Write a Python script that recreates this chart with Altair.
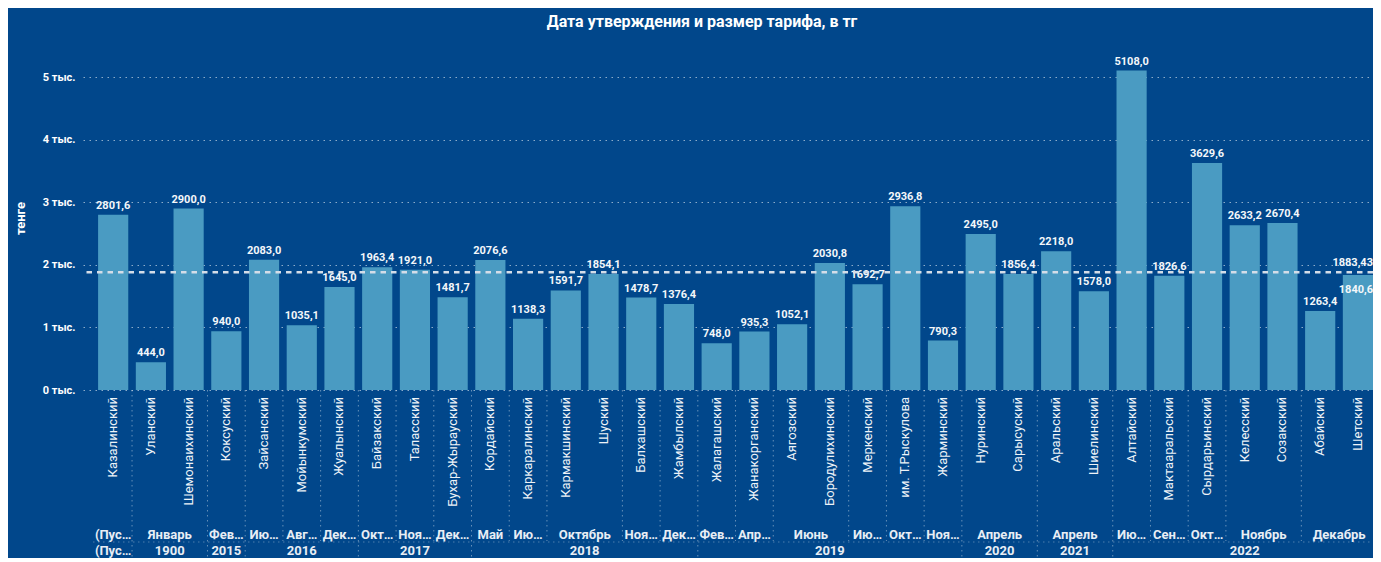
import altair as alt
import pandas as pd

# ---------------- data ----------------
districts = [
    "Казалинский", "Уланский", "Шемонаихинский", "Коксуский", "Зайсанский",
    "Мойынкумский", "Жуалынский", "Байзакский", "Таласский", "Бухар-Жырауский",
    "Кордайский", "Каркаралинский", "Кармакшинский", "Шуский", "Балхашский",
    "Жамбылский", "Жалагашский", "Жанакорганский", "Аягозский", "Бородулихинский",
    "Меркенский", "им. Т.Рыскулова", "Жарминский", "Нуринский", "Сарысуский",
    "Аральский", "Шиелинский", "Алтайский", "Мактааральский", "Сырдарьинский",
    "Келесский", "Созакский", "Абайский", "Шетский",
]
values = [
    2801.6, 444.0, 2900.0, 940.0, 2083.0,
    1035.1, 1645.0, 1963.4, 1921.0, 1481.7,
    2076.6, 1138.3, 1591.7, 1854.1, 1478.7,
    1376.4, 748.0, 935.3, 1052.1, 2030.8,
    1692.7, 2936.8, 790.3, 2495.0, 1856.4,
    2218.0, 1578.0, 5108.0, 1826.6, 3629.6,
    2633.2, 2670.4, 1263.4, 1840.6,
]
months = [
    "(Пус…", "Январь", "Январь", "Фев…", "Ию…",
    "Авг…", "Дек…", "Окт…", "Ноя…", "Дек…",
    "Май", "Ию…", "Октябрь", "Октябрь", "Ноя…",
    "Дек…", "Фев…", "Апр…", "Июнь", "Июнь",
    "Ию…", "Окт…", "Ноя…", "Апрель", "Апрель",
    "Апрель", "Апрель", "Ию…", "Сен…", "Окт…",
    "Ноябрь", "Ноябрь", "Декабрь", "Декабрь",
]
years = [
    "(Пус…", "1900", "1900", "2015", "2016",
    "2016", "2016", "2017", "2017", "2017",
    "2018", "2018", "2018", "2018", "2018",
    "2018", "2019", "2019", "2019", "2019",
    "2019", "2019", "2019", "2020", "2020",
    "2021", "2021", "2022", "2022", "2022",
    "2022", "2022", "2022", "2022",
]
avg_value = 1883.43
y_ticks = [0, 1000, 2000, 3000, 4000, 5000]

TITLE = "Дата утверждения и размер тарифа, в тг"
Y_TITLE = "тенге"

# ---------------- tables ----------------
n = len(values)
df = pd.DataFrame({"i": list(range(n)), "district": districts,
                   "value": values, "month": months, "year": years})
# the last bar's label sits inside the bar (it would collide with the average label)
df["inside"] = [k == n - 1 for k in range(n)]

def runs(keys):
    groups = []
    start = 0
    for k in range(1, len(keys) + 1):
        if k == len(keys) or keys[k] != keys[start]:
            groups.append((start, k - 1))
            start = k
    return groups

mkeys = [m + "|" + y for m, y in zip(months, years)]
mg = runs(mkeys)
month_df = pd.DataFrame({
    "c": [(a + b) / 2 for a, b in mg],
    "label": [months[a] for a, b in mg],
})
yg = runs(years)
year_df = pd.DataFrame({
    "c": [(a + b) / 2 for a, b in yg],
    "label": [years[a] for a, b in yg],
})
year_starts = set(a for a, b in yg)
sep_df = pd.DataFrame({
    "b": [a - 0.5 for a, b in mg[1:]],
    "long": [a in year_starts for a, b in mg[1:]],
})
avg_df = pd.DataFrame({"avg": [avg_value],
                       "label": [str(avg_value).replace(".", ",")]})

# ---------------- geometry ----------------
W, H = 1290, 344
BG = "#01478B"
BAR = "#4A9BC2"
FONT = "Roboto"

xs = alt.Scale(domain=[-0.8, 33.4], zero=False, nice=False)
ys = alt.Scale(domain=[0, 5500], nice=False)

y_axis = alt.Axis(
    values=y_ticks,
    labelExpr="datum.value / 1000 + ' тыс.'",
    title=Y_TITLE,
    titleColor="white", titleFont=FONT, titleFontSize=13, titleFontWeight="bold",
    titleX=-63, titleY=H / 2, titleAngle=270, titleAlign="center",
    titleBaseline="middle",
    labelColor="white", labelFont=FONT, labelFontSize=11, labelFontWeight="bold",
    labelPadding=8, ticks=False, domain=False,
    grid=True, gridColor="#ffffff", gridOpacity=0.55, gridDash=[1.5, 4.5],
    gridWidth=1,
)

base = alt.Chart(df)

bars = base.transform_calculate(
    x0="datum.i - 0.4", x1="datum.i + 0.4"
).mark_bar(color=BAR).encode(
    x=alt.X("x0:Q", scale=xs, axis=None),
    x2="x1:Q",
    y=alt.Y("value:Q", scale=ys, axis=y_axis),
    y2=alt.datum(0),
)

value_labels = base.transform_filter("!datum.inside").transform_calculate(
    lbl="replace(format(datum.value, '.1f'), '.', ',')"
).mark_text(color="#f4f7fa", font=FONT, fontSize=11, fontWeight="bold",
            baseline="bottom", dy=-4).encode(
    x=alt.X("i:Q", scale=xs, axis=None),
    y=alt.Y("value:Q", scale=ys, axis=y_axis),
    text="lbl:N",
)

value_labels_in = base.transform_filter("datum.inside").transform_calculate(
    lbl="replace(format(datum.value, '.1f'), '.', ',')"
).mark_text(color="#f4f7fa", font=FONT, fontSize=11, fontWeight="bold",
            baseline="top", dy=9, dx=-2).encode(
    x=alt.X("i:Q", scale=xs, axis=None),
    y=alt.Y("value:Q", scale=ys, axis=y_axis),
    text="lbl:N",
)

district_labels = base.mark_text(
    color="#eef3f8", font=FONT, fontSize=13, angle=270, align="right",
    baseline="middle",
).encode(
    x=alt.X("i:Q", scale=xs, axis=None),
    y=alt.value(H + 7),
    text="district:N",
)

avg_rule = alt.Chart(avg_df).mark_rule(
    color="#d4dde8", strokeWidth=2.5, strokeDash=[5.5, 5]
).encode(y=alt.Y("avg:Q", scale=ys, axis=y_axis))

avg_label = alt.Chart(avg_df).mark_text(
    color="#f4f7fa", font=FONT, fontSize=11, fontWeight="bold",
    align="right", baseline="bottom", dy=-4,
).encode(
    x=alt.value(W),
    y=alt.Y("avg:Q", scale=ys, axis=y_axis),
    text="label:N",
)

month_labels = alt.Chart(month_df).mark_text(
    color="#e8eef5", font=FONT, fontSize=13, fontWeight="bold", baseline="middle"
).encode(
    x=alt.X("c:Q", scale=xs, axis=None),
    y=alt.value(H + 145),
    text="label:N",
)

year_labels = alt.Chart(year_df).mark_text(
    color="#e8eef5", font=FONT, fontSize=13, fontWeight="bold", baseline="middle"
).encode(
    x=alt.X("c:Q", scale=xs, axis=None),
    y=alt.value(H + 161),
    text="label:N",
)

sep_short = alt.Chart(sep_df).transform_filter("!datum.long").mark_rule(
    color="#ffffff", opacity=0.4, strokeDash=[1.5, 3.5]
).encode(
    x=alt.X("b:Q", scale=xs, axis=None),
    y=alt.value(H),
    y2=alt.value(H + 151),
)

sep_long = alt.Chart(sep_df).transform_filter("datum.long").mark_rule(
    color="#ffffff", opacity=0.4, strokeDash=[1.5, 3.5]
).encode(
    x=alt.X("b:Q", scale=xs, axis=None),
    y=alt.value(H),
    y2=alt.value(H + 170),
)

row_line = alt.Chart(avg_df).mark_rule(
    color="#ffffff", opacity=0.3, strokeDash=[1.5, 3.5]
).encode(
    x=alt.value(10), x2=alt.value(W), y=alt.value(H + 152),
)

chart = alt.layer(
    bars, sep_short, sep_long, row_line, value_labels, value_labels_in,
    district_labels, avg_rule, avg_label, month_labels, year_labels,
).properties(
    width=W, height=H,
    title=alt.TitleParams(TITLE, anchor="middle", frame="group", color="white",
                          font=FONT, fontSize=16, fontWeight="bold",
                          offset=16, dx=-26),
    autosize=alt.AutoSizeParams(type="none"),
    padding={"left": 75, "top": 38, "right": 0, "bottom": 168},
    background=BG,
).configure_view(stroke=None)

chart.save("out.html", embed_options={"renderer": "svg", "actions": False})
